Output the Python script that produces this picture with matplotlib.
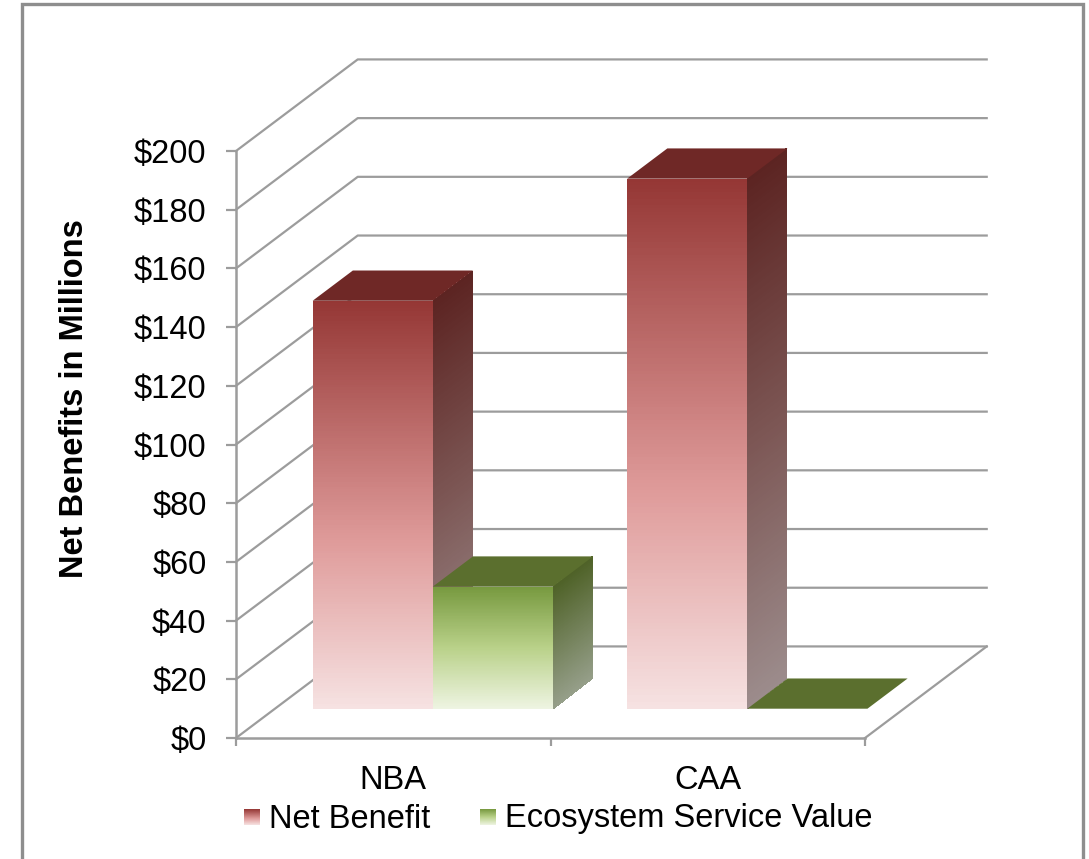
import numpy as np
import matplotlib
matplotlib.use("Agg")
import matplotlib.pyplot as plt
from matplotlib.colors import LinearSegmentedColormap
from matplotlib.patches import Rectangle

categorias = ["NBA", "CAA"]
net_benefit = [139, 180.6]
ecosystem_value = [41.6, 0]
series_nombres = ["Net Benefit", "Ecosystem Service Value"]
valores_eje = [0, 20, 40, 60, 80, 100, 120, 140, 160, 180, 200]
etiquetas_eje = ["$0", "$20", "$40", "$60", "$80", "$100", "$120", "$140", "$160", "$180", "$200"]

plt.rcParams["font.family"] = ["Liberation Sans", "DejaVu Sans"]
GRIS = "#9c9c9c"
LETRA = 23.5

# colores de cada serie: frente, lado y tapa
cmap_rojo = LinearSegmentedColormap.from_list("rojo", [(0, "#f6e2e2"), (0.41, "#df9b9a"), (1, "#953735")])
cmap_rojo_lado = LinearSegmentedColormap.from_list("rojo_lado", ["#9c8c8c", "#7c5654", "#5c2422"])
cmap_verde = LinearSegmentedColormap.from_list("verde", [(0, "#eef4e2"), (0.5, "#b9d189"), (1, "#77993f")])
cmap_verde_lado = LinearSegmentedColormap.from_list("verde_lado", ["#969f8a", "#4f6228"])
TAPA_ROJO = "#6f2826"
TAPA_VERDE = "#5b6f2e"

W, H = 1089, 859
fig = plt.figure(figsize=(W / 100, H / 100), dpi=100, facecolor="white")

# Marco gris, abierto por abajo
fig.add_artist(Rectangle((22 / W, -0.02), (1083 - 22) / W, 1.02 - 4.5 / H, transform=fig.transFigure,
                         fill=False, edgecolor="#8e8e8e", linewidth=2.4))

# El eje coincide con el plano frontal del grafico 3D
ax = fig.add_axes([236 / W, (H - 738) / H, 629 / W, 587 / H], facecolor="none")
ax.set_xlim(0, len(categorias))
ax.set_ylim(0, 200)

# Profundidad total del grafico en unidades de datos
prof_x = 0.387
prof_y = 31.2
ini = 0.32
fin = 0.65
ancho = 0.382


def proy(x, y, d):
    return x + prof_x * d, y + prof_y * d


# Lineas de la pared y del piso
for v in valores_eje:
    xs = [0, prof_x, len(categorias) + prof_x]
    ys = [v, v + prof_y, v + prof_y]
    ax.plot(xs, ys, color=GRIS, linewidth=1.6, clip_on=False, zorder=1)
ax.plot([len(categorias), len(categorias) + prof_x], [0, prof_y], color=GRIS, linewidth=1.6, clip_on=False, zorder=1)


def cara(x0, x1, d0, d1, alto, cmap, z):
    # cara con degradado vertical, hecha con pcolormesh
    t = np.linspace(0, 1, 161)
    px0, py0 = proy(x0, 0, d0)
    px1, py1 = proy(x1, 0, d1)
    X = np.array([[px0, px1]] * len(t))
    Y = np.column_stack([py0 + t * alto, py1 + t * alto])
    C = ((t[:-1] + t[1:]) / 2).reshape(-1, 1)
    ax.pcolormesh(X, Y, C, cmap=cmap, vmin=0, vmax=1, shading="flat", clip_on=False, zorder=z,
                  antialiased=False, linewidth=0)


def barra(x0, valor, cmap_f, cmap_l, tapa, z):
    x1 = x0 + ancho
    if valor > 0:
        cara(x1, x1, ini, fin, valor, cmap_l, z)
        cara(x0, x1, ini, ini, valor, cmap_f, z + 0.1)
    esquinas = [proy(x0, valor, ini), proy(x1, valor, ini), proy(x1, valor, fin), proy(x0, valor, fin)]
    ax.fill(*zip(*esquinas), color=tapa, linewidth=0, clip_on=False, zorder=z + 0.2)


for i in range(len(categorias)):
    x_rojo = i + 0.502 - ancho
    x_verde = i + 0.502
    barra(x_rojo, net_benefit[i], cmap_rojo, cmap_rojo_lado, TAPA_ROJO, 2 + i * 2)
    barra(x_verde, ecosystem_value[i], cmap_verde, cmap_verde_lado, TAPA_VERDE, 3 + i * 2)

# Ejes
for lado in ["top", "right"]:
    ax.spines[lado].set_visible(False)
for lado in ["left", "bottom"]:
    ax.spines[lado].set_color(GRIS)
    ax.spines[lado].set_linewidth(1.8)
    ax.spines[lado].set_zorder(10)

ax.set_yticks(valores_eje)
ax.set_yticklabels(etiquetas_eje)
ax.set_xticks(range(len(categorias) + 1))
ax.set_xticklabels([])
ax.set_xticks([i + 0.5 for i in range(len(categorias))], labels=categorias, minor=True)
ax.tick_params(axis="y", length=7.2, width=1.6, color=GRIS, labelsize=LETRA, pad=14, labelcolor="black")
ax.tick_params(axis="x", which="major", length=6, width=1.6, color=GRIS)
ax.tick_params(axis="x", which="minor", length=0, labelsize=LETRA, pad=19.5, labelcolor="black")

# Titulo del eje Y
fig.text(75 / W, (H - 399) / H, "Net Benefits in Millions", fontsize=LETRA, fontweight="bold",
         rotation=90, va="center", ha="center", color="black")

# Leyenda con muestras en degradado
gradiente = np.linspace(1, 0, 64).reshape(-1, 1)
for cmap, x_muestra, x_texto, nombre in zip([cmap_rojo, cmap_verde], [244, 480], [269, 505], series_nombres):
    m = fig.add_axes([x_muestra / W, (H - 825) / H, 16 / W, 16 / H])
    m.imshow(gradiente, cmap=cmap, aspect="auto", vmin=0, vmax=1)
    m.axis("off")
    fig.text(x_texto / W, (H - 819) / H, nombre, fontsize=LETRA, color="black", va="center", ha="left")

fig.savefig("out.png", dpi=100)
